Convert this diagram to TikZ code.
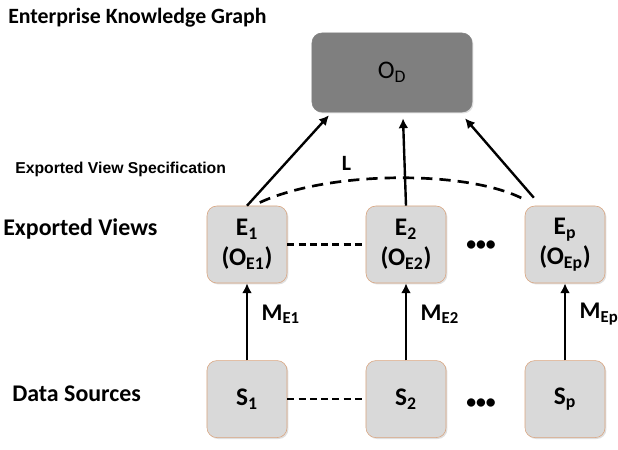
\documentclass[tikz,border=0pt]{standalone}
\usepackage{fontspec}
\setmainfont{Carlito}
\newfontfamily\arialfont{Liberation Sans}
\usetikzlibrary{positioning,shadows,arrows.meta}
\definecolor{boxfill}{HTML}{D9D9D9}
\definecolor{boxline}{HTML}{D9A47E}
\definecolor{topfill}{HTML}{7F7F7F}
\tikzstyle{view} = [rectangle,
                    rounded corners=7pt,
                    minimum width=2cm,
                    minimum height=1.925cm,
                    text centered,
                    align=center,
                    font=\fontsize{18}{21.5}\selectfont\bfseries,
                    fill=boxfill,
                    draw=boxline,
                    drop shadow={opacity=0.25,shadow xshift=1pt,shadow yshift=-1pt}]
\tikzstyle{ontology} = [rectangle,
                        rounded corners=7pt,
                        minimum width=4cm,
                        minimum height=1.975cm,
                        text centered,
                        font=\fontsize{18}{21}\selectfont,
                        fill=topfill,
                        draw=topfill,
                        drop shadow={opacity=0.25,shadow xshift=1pt,shadow yshift=-1pt}]
\tikzstyle{heading} = [anchor=base west, inner sep=0pt,
                       font=\fontsize{17}{20}\selectfont\bfseries]
\tikzstyle{uparrow} = [line width=1.7pt, -{Latex[length=7pt,width=7pt]}]
\tikzstyle{link} = [line width=1.9pt, dash pattern=on 5pt off 3pt]
\tikzstyle{mlabel} = [right=0.22cm, pos=0.6, font=\fontsize{17}{20}\selectfont\bfseries]
\tikzstyle{dots} = [font=\fontsize{14}{16}\selectfont\bfseries]

\begin{document}
\begin{tikzpicture}[x=0.025cm, y=-0.025cm, node distance=1.925cm and 1.96cm]
\useasboundingbox (0,0) rectangle (618,449);
% left labels
\node (ekg) [heading, font=\fontsize{15.5}{18}\selectfont\bfseries] at (8,23) {Enterprise Knowledge Graph};
\node (evs) [anchor=base west, inner sep=0pt, font=\arialfont\fontsize{11.2}{13}\selectfont\bfseries] at (15,173) {Exported View Specification};
\node (ev) [heading] at (3,235) {Exported Views};
\node (ds) [heading] at (12,401) {Data Sources};
% nodes
\node (od) [ontology] at (392,72.5) {O\textsubscript{D}};
\node (e1) [view] at (247,244.5) {E\textsubscript{1}\\(O\textsubscript{E1})};
\node (e2) [view, right= of e1] {E\textsubscript{2}\\(O\textsubscript{E2})};
\node (ep) [view, right= of e2] {E\textsubscript{p}\\(O\textsubscript{Ep})};
\node (s1) [view, below= of e1] {S\textsubscript{1}};
\node (s2) [view, below= of e2] {S\textsubscript{2}};
\node (sp) [view, below= of ep] {S\textsubscript{p}};
\node (edots) [dots] at (481,246) {\textbullet\textbullet\textbullet};
\node (sdots) [dots] at (481,404) {\textbullet\textbullet\textbullet};
% connectors
\draw[uparrow] (e1.north) -- ([xshift=-1.575cm,yshift=-0.075cm]od.south);
\draw[uparrow] (e2.north) -- ([xshift=0.275cm,yshift=-0.15cm]od.south);
\draw[uparrow] ([xshift=-0.78cm,yshift=0.2cm]ep.north) -- ([xshift=1.825cm,yshift=-0.15cm]od.south);
\draw[link, dash pattern=on 8pt off 5pt] ([xshift=0.32cm,yshift=0.08cm]e1.north) .. controls (330,170) and (470,170) .. ([yshift=0.15cm]ep.north west)
  node (l) [pos=0.33, above=0.1cm, font=\fontsize{15.5}{18}\selectfont\bfseries] {L};
\draw[link] (e1.east) -- (e2.west);
\draw[link] (s1.east) -- (s2.west);
\draw[uparrow] (s1.north) -- (e1.south) node[mlabel] {M\textsubscript{E1}};
\draw[uparrow] (s2.north) -- (e2.south) node[mlabel] {M\textsubscript{E2}};
\draw[uparrow] (sp.north) -- (ep.south) node[mlabel] {M\textsubscript{Ep}};
\end{tikzpicture}
\end{document}
